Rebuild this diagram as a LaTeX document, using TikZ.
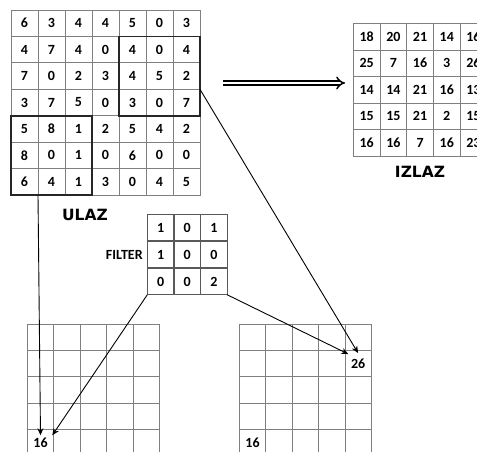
\documentclass[tikz,border=0pt]{standalone}
\usepackage{fontspec}
\newfontfamily\calibfont{Carlito}
\newfontfamily\dejafont{DejaVu Sans}
\usetikzlibrary{arrows.meta,positioning}

\tikzset{
  celda/.style={draw=black!50, line width=0.8pt, minimum width=#1, minimum height=26.4pt,
    inner sep=0pt, outer sep=0pt, font=\calibfont\bfseries\fontsize{14}{14}\selectfont},
  celda/.default=26.5pt,
  caja/.style={line width=1.8pt, black!85},
  numero/.style={inner sep=2.5pt, font=\calibfont\bfseries\fontsize{14}{14}\selectfont},
  rotulo/.style={inner sep=0pt, font=\dejafont\bfseries\fontsize{15.5}{15.5}\selectfont},
  flecha/.style={line width=0.9pt, -{Stealth[length=7pt,width=6pt]}},
  doble/.style={double, double distance=2.8pt, line width=1.5pt, -{Implies}}
}

\begin{document}
\begin{tikzpicture}[x=1pt,y=-1pt]
            \useasboundingbox (0,0) rectangle (477,452);
            \clip (0,0) rectangle (477,452);
            % Ulaz
            \foreach \fila [count=\r] in {{6,3,4,4,5,0,3},{4,7,4,0,4,0,4},{7,0,2,3,4,5,2},{3,7,5,0,3,0,7},{5,8,1,2,5,4,2},{8,0,1,0,6,0,0},{6,4,1,3,0,4,5}}{
              \foreach \v [count=\c] in \fila {
                \node[celda=27pt] (u-\r-\c) at ({11+27*(\c-0.5)},{10+26.43*(\r-0.5)}) {\v};
              }
            }
            \draw[caja] (u-2-5.north west) rectangle (u-4-7.south east);
            \draw[caja] (u-5-1.north west) rectangle (u-7-3.south east);
            \node[rotulo] (ulaz) at (85,215) {ULAZ};
            % Izlaz
            \foreach \fila [count=\r] in {{18,20,21,14,16},{25,7,16,3,26},{14,14,21,16,13},{15,15,21,2,15},{16,16,7,16,23}}{
              \foreach \v [count=\c] in \fila {
                \node[celda=26.7pt] (i-\r-\c) at ({353.3+26.7*(\c-0.5)},{23.5+26.5*(\r-0.5)}) {\v};
              }
            }
            \node[rotulo, below=10.5pt of i-5-3] (izlaz) {IZLAZ};
            % Strelica
            \coordinate (dA) at (223,83);
            \coordinate (dB) at (345,83);
            \draw[doble] (dA) -- (dB);
            % Filter
            \foreach \fila [count=\r] in {{1,0,1},{1,0,0},{0,0,2}}{
              \foreach \v [count=\c] in \fila {
                \node[celda, draw=black!65] (f-\r-\c) at ({147.3+26.6*(\c-0.5)},{214+27*(\r-0.5)}) {\v};
              }
            }
            \node[numero, inner sep=0pt, left=4.5pt of f-2-1] (filter) {FILTER};
            % Mreze dolje
            \foreach \r in {1,...,5}{
              \foreach \c in {1,...,5}{
                \node[celda=26.4pt] (a-\r-\c) at ({27.3+26.4*(\c-0.5)},{324+26.4*(\r-0.5)}) {};
                \node[celda=26.4pt] (b-\r-\c) at ({239.3+26.4*(\c-0.5)},{324+26.4*(\r-0.5)}) {};
              }
            }
            \node[numero] (a16) at (a-5-1) {16};
            \node[numero] (b16) at (b-5-1) {16};
            \node[numero] (b26) at (b-2-5) {26};
            % Veze
            \draw[flecha] (u-7-1.south east) -- (a16.north);
            \draw[flecha] (f-3-1.south west) -- ([xshift=2pt]a16.north east);
            \draw[flecha] (f-3-3.south east) -- ([yshift=2pt]b26.north west);
            \draw[flecha] (u-4-7.north east) -- ([yshift=3pt]b26.north);
        \end{tikzpicture}
\end{document}
